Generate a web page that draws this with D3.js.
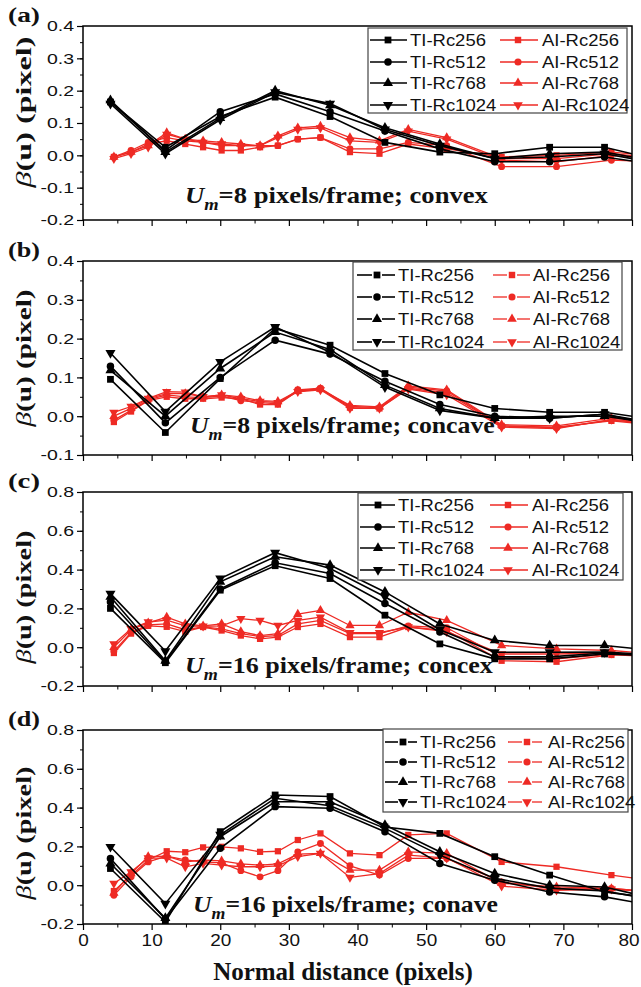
<!DOCTYPE html>
<html>
<head>
<meta charset="utf-8">
<script src="https://cdn.jsdelivr.net/npm/d3@7"></script>
<style>
  body { margin: 0; background: #fff; }
  svg { display: block; }
</style>
</head>
<body>
<div id="chart"></div>
<script>
// x positions of the two families of points
const tiX = [4, 12, 20, 28, 36, 44, 52, 60, 68, 76, 84];
const aiX = [4.5, 7, 9.5, 12.2, 14.9, 17.5, 20.2, 23, 25.8, 28.4, 31.3, 34.6, 38.9, 43.2, 47.4, 53, 61, 69, 77, 85];
const rcNames = ['Rc256', 'Rc512', 'Rc768', 'Rc1024'];
const xTicks = [0, 10, 20, 30, 40, 50, 60, 70, 80];

// (a) Um=8, convex
const aTI256 = [0.165, 0.025, 0.12, 0.18, 0.12, 0.04, 0.01, 0.005, 0.025, 0.025, -0.015];
const aTI512 = [0.165, 0.015, 0.135, 0.19, 0.135, 0.075, 0.02, -0.02, -0.02, -0.005, -0.03];
const aTI768 = [0.17, 0.01, 0.115, 0.2, 0.155, 0.085, 0.035, -0.01, 0.005, 0.01, -0.02];
const aTI1024 = [0.16, 0.005, 0.11, 0.195, 0.16, 0.08, 0.03, -0.01, -0.005, 0.005, -0.025];
const aAI256 = [-0.005, 0.01, 0.035, 0.045, 0.035, 0.025, 0.015, 0.015, 0.025, 0.03, 0.05, 0.055, 0.01, 0.005, 0.035, 0.02, -0.005, 0.0, 0.01, -0.005];
const aAI512 = [-0.005, 0.015, 0.04, 0.055, 0.045, 0.04, 0.03, 0.03, 0.03, 0.03, 0.05, 0.055, 0.02, 0.02, 0.04, 0.03, -0.035, -0.035, -0.015, -0.02];
const aAI768 = [-0.005, 0.01, 0.03, 0.07, 0.05, 0.045, 0.04, 0.035, 0.03, 0.06, 0.085, 0.09, 0.055, 0.045, 0.08, 0.055, -0.01, -0.01, 0.005, -0.01];
const aAI1024 = [-0.01, 0.005, 0.025, 0.065, 0.05, 0.04, 0.035, 0.03, 0.03, 0.055, 0.08, 0.085, 0.045, 0.04, 0.075, 0.05, -0.015, -0.02, 0.0, -0.015];

// (b) Um=8, concave
const bTI256 = [0.095, -0.042, 0.097, 0.226, 0.183, 0.11, 0.055, 0.02, 0.01, 0.01, -0.01];
const bTI512 = [0.129, -0.017, 0.1, 0.196, 0.16, 0.09, 0.03, 0.0, -0.005, 0.005, -0.02];
const bTI768 = [0.118, 0.0, 0.123, 0.217, 0.172, 0.08, 0.02, -0.005, 0.0, 0.0, -0.02];
const bTI1024 = [0.163, 0.012, 0.14, 0.23, 0.165, 0.075, 0.015, -0.005, -0.005, 0.005, -0.025];
const bAI256 = [-0.015, 0.012, 0.04, 0.05, 0.045, 0.045, 0.048, 0.045, 0.03, 0.03, 0.065, 0.07, 0.022, 0.02, 0.072, 0.06, -0.025, -0.028, -0.012, -0.025];
const bAI512 = [-0.01, 0.015, 0.042, 0.055, 0.05, 0.048, 0.052, 0.04, 0.035, 0.032, 0.068, 0.072, 0.025, 0.022, 0.075, 0.065, -0.025, -0.03, -0.01, -0.022];
const bAI768 = [0.0, 0.02, 0.045, 0.058, 0.058, 0.05, 0.055, 0.05, 0.04, 0.038, 0.065, 0.07, 0.028, 0.024, 0.078, 0.068, -0.022, -0.025, -0.005, -0.018];
const bAI1024 = [0.01, 0.025, 0.046, 0.063, 0.062, 0.05, 0.055, 0.045, 0.038, 0.035, 0.063, 0.068, 0.02, 0.02, 0.07, 0.055, -0.028, -0.032, -0.008, -0.02];

// (c) Um=16, convex
const cTI256 = [0.2, -0.08, 0.294, 0.42, 0.354, 0.165, 0.017, -0.06, -0.06, -0.035, -0.045];
const cTI512 = [0.233, -0.075, 0.3, 0.435, 0.38, 0.225, 0.078, -0.05, -0.05, -0.03, -0.045];
const cTI768 = [0.26, -0.07, 0.337, 0.466, 0.423, 0.285, 0.12, 0.035, 0.009, 0.009, -0.02];
const cTI1024 = [0.276, -0.02, 0.354, 0.487, 0.406, 0.26, 0.09, -0.026, -0.026, -0.025, -0.04];
const cAI256 = [-0.03, 0.07, 0.11, 0.105, 0.08, 0.104, 0.086, 0.06, 0.043, 0.052, 0.104, 0.12, 0.052, 0.052, 0.104, 0.086, -0.07, -0.075, -0.04, -0.05];
const cAI512 = [-0.02, 0.075, 0.115, 0.12, 0.09, 0.105, 0.095, 0.07, 0.055, 0.06, 0.12, 0.138, 0.07, 0.07, 0.11, 0.1, -0.05, -0.06, -0.035, -0.045];
const cAI768 = [0.0, 0.09, 0.125, 0.155, 0.12, 0.11, 0.12, 0.08, 0.06, 0.07, 0.17, 0.19, 0.112, 0.112, 0.18, 0.138, 0.009, -0.009, -0.017, -0.04];
const cAI1024 = [0.017, 0.095, 0.13, 0.14, 0.11, 0.108, 0.11, 0.147, 0.138, 0.112, 0.138, 0.155, 0.075, 0.075, 0.104, 0.08, -0.035, -0.035, -0.03, -0.045];

// (d) Um=16, concave
const dTI256 = [0.086, -0.19, 0.276, 0.465, 0.457, 0.3, 0.267, 0.147, 0.052, -0.035, -0.07];
const dTI512 = [0.138, -0.175, 0.19, 0.405, 0.397, 0.276, 0.112, 0.026, -0.035, -0.06, -0.11];
const dTI768 = [0.112, -0.17, 0.25, 0.43, 0.43, 0.31, 0.172, 0.06, 0.0, -0.009, -0.075];
const dTI1024 = [0.198, -0.095, 0.26, 0.448, 0.41, 0.293, 0.155, 0.035, -0.015, -0.03, -0.08];
const dAI256 = [-0.03, 0.05, 0.13, 0.175, 0.17, 0.195, 0.198, 0.19, 0.172, 0.175, 0.233, 0.267, 0.164, 0.155, 0.259, 0.267, 0.12, 0.095, 0.052, 0.015];
const dAI512 = [-0.052, 0.043, 0.12, 0.15, 0.13, 0.12, 0.115, 0.075, 0.043, 0.075, 0.172, 0.215, 0.1, 0.052, 0.138, 0.138, 0.017, -0.02, -0.017, -0.04];
const dAI768 = [-0.04, 0.06, 0.147, 0.15, 0.12, 0.13, 0.125, 0.11, 0.103, 0.11, 0.16, 0.164, 0.078, 0.078, 0.172, 0.164, 0.01, -0.009, -0.017, -0.04];
const dAI1024 = [0.009, 0.069, 0.14, 0.14, 0.095, 0.112, 0.103, 0.095, 0.095, 0.1, 0.147, 0.164, 0.04, 0.06, 0.155, 0.14, -0.005, -0.026, -0.02, -0.04];

const W = 641, H = 987;
const RED = '#ee2a24';
const SERIF = '"Liberation Serif", "Times New Roman", serif';
const SANS = '"Liberation Sans", Arial, sans-serif';

// layout of the four stacked panels
const panels = [
    {letter: '(a)', top: 26, bottom: 220, domain: [-0.2, 0.4], step: 0.1,
     ti: [aTI256, aTI512, aTI768, aTI1024], ai: [aAI256, aAI512, aAI768, aAI1024],
     um: '8', note: ' pixels/frame; convex', noteX: 185, noteY: 203, noteW: 303,
     labelY: 112, labelW: 151,
     legend: {x0: 368, y0: 28, x1: 627, y1: 113, rows: [40, 62, 83, 105], l: [370, 407, 388, 410], r: [500, 538, 518, 542], gap: false}},
    {letter: '(b)', top: 261, bottom: 455, domain: [-0.1, 0.4], step: 0.1,
     ti: [bTI256, bTI512, bTI768, bTI1024], ai: [bAI256, bAI512, bAI768, bAI1024],
     um: '8', note: ' pixels/frame; concave', noteX: 190, noteY: 433, noteW: 305,
     labelY: 358, labelW: 137,
     legend: {x0: 353, y0: 262, x1: 622, y1: 350, rows: [275, 297, 319, 342], l: [357, 395, 377, 398], r: [493, 530, 512, 533], gap: true}},
    {letter: '(c)', top: 492, bottom: 686, domain: [-0.2, 0.8], step: 0.2,
     ti: [cTI256, cTI512, cTI768, cTI1024], ai: [cAI256, cAI512, cAI768, cAI1024],
     um: '16', note: ' pixels/frame; concex', noteX: 185, noteY: 673, noteW: 308,
     labelY: 597, labelW: 133,
     legend: {x0: 358, y0: 493, x1: 623, y1: 580, rows: [505, 527, 548, 570], l: [360, 395, 378, 398], r: [490, 528, 508, 532], gap: false}},
    {letter: '(d)', top: 730, bottom: 924, domain: [-0.2, 0.8], step: 0.2,
     ti: [dTI256, dTI512, dTI768, dTI1024], ai: [dAI256, dAI512, dAI768, dAI1024],
     um: '16', note: ' pixels/frame; conave', noteX: 193, noteY: 912, noteW: 305,
     labelY: 833, labelW: 133,
     legend: {x0: 383, y0: 729, x1: 628, y1: 812, rows: [742, 762, 782, 802], l: [385, 417, 403, 420], r: [508, 542, 527, 548], gap: true}}
];

const svg = d3.select('#chart').append('svg')
    .attr('width', W)
    .attr('height', H);

const x = d3.scaleLinear().domain([0, 80]).range([83, 632]);

// square, circle, up triangle, down triangle
const symTypes = [d3.symbolSquare, d3.symbolCircle, d3.symbolTriangle, d3.symbolTriangle];
const symSizes = [46, 44, 44, 44];
function marker(sel, i, cx, cy, color, k) {
    sel.append('path')
        .attr('d', d3.symbol().type(symTypes[i]).size(symSizes[i] * k)())
        .attr('transform', `translate(${cx},${cy})` + (i === 3 ? ' rotate(180)' : ''))
        .attr('fill', color);
}

// text squeezed/stretched horizontally so it fills a given width
function fitText(parent, px, py, width, rotate, build) {
    const g = parent.append('g');
    const t = g.append('text');
    build(t);
    const w = t.node().getComputedTextLength();
    const k = width ? width / w : 1;
    g.attr('transform', `translate(${px},${py})` + (rotate ? ` rotate(${rotate})` : '') + ` scale(${k},1)`);
    return g;
}

panels.forEach((p, pi) => {
    const y = d3.scaleLinear().domain(p.domain).range([p.bottom, p.top]);
    const g = svg.append('g');
    const last = pi === panels.length - 1;

    // clip to plot area
    const clipId = 'clip' + pi;
    svg.append('clipPath').attr('id', clipId)
        .append('rect')
        .attr('x', x(0)).attr('y', p.top)
        .attr('width', x(80) - x(0)).attr('height', p.bottom - p.top);

    // y axis major + minor
    const yMajor = d3.range(Math.round((p.domain[1] - p.domain[0]) / p.step) + 1)
        .map(i => Math.round((p.domain[0] + i * p.step) * 10) / 10);
    const yMinor = d3.range(Math.round((p.domain[1] - p.domain[0]) / p.step * 2) + 1)
        .map(i => p.domain[0] + i * p.step / 2);

    g.append('g')
        .attr('transform', `translate(${x(0)},0)`)
        .call(d3.axisLeft(y).tickValues(yMinor).tickSize(3).tickSizeOuter(0).tickFormat(''))
        .call(a => a.select('.domain').remove());

    const ya = g.append('g')
        .attr('transform', `translate(${x(0)},0)`)
        .call(d3.axisLeft(y).tickValues(yMajor).tickSize(6).tickSizeOuter(0).tickPadding(3)
            .tickFormat(d => d.toFixed(1)));
    ya.select('.domain').remove();
    ya.selectAll('line').attr('stroke-width', 1.2);
    ya.selectAll('text')
        .attr('font-family', SANS)
        .attr('font-size', 15)
        .attr('fill', '#111')
        .attr('x', -9 / 1.3)
        .attr('transform', 'scale(1.3,1)');

    // x axis major + minor
    g.append('g')
        .attr('transform', `translate(0,${p.bottom})`)
        .call(d3.axisBottom(x).tickValues(d3.range(5, 80, 10)).tickSize(3.5).tickSizeOuter(0).tickFormat(''))
        .call(a => a.select('.domain').remove());

    const xa = g.append('g')
        .attr('transform', `translate(0,${p.bottom})`)
        .call(d3.axisBottom(x).tickValues(xTicks).tickSize(6).tickSizeOuter(0).tickPadding(4)
            .tickFormat(last ? d3.format('d') : ''));
    xa.select('.domain').remove();
    xa.selectAll('line').attr('stroke-width', 1.2);
    xa.selectAll('text')
        .attr('font-family', SANS)
        .attr('font-size', 16.5)
        .attr('fill', '#111')
        .attr('transform', 'scale(1.15,1)')
        // keep the last label inside the page edge
        .attr('x', d => d === 80 ? -3 : 0);

    // data lines
    const plot = g.append('g').attr('clip-path', `url(#${clipId})`);
    const line = d3.line().x(d => x(d[0])).y(d => y(d[1]));

    p.ai.forEach((vals, i) => {
        const pts = aiX.map((xv, j) => [xv, vals[j]]);
        plot.append('path')
            .attr('d', line(pts))
            .attr('fill', 'none')
            .attr('stroke', RED)
            .attr('stroke-width', 1.3);
        pts.forEach(d => marker(plot, i, x(d[0]), y(d[1]), RED, 0.85));
    });

    p.ti.forEach((vals, i) => {
        const pts = tiX.map((xv, j) => [xv, vals[j]]);
        plot.append('path')
            .attr('d', line(pts))
            .attr('fill', 'none')
            .attr('stroke', '#000')
            .attr('stroke-width', 1.6);
        pts.forEach(d => marker(plot, i, x(d[0]), y(d[1]), '#000', 1));
    });

    // frame
    g.append('rect')
        .attr('x', x(0)).attr('y', p.top)
        .attr('width', x(80) - x(0)).attr('height', p.bottom - p.top)
        .attr('fill', 'none')
        .attr('stroke', '#000')
        .attr('stroke-width', 1.5);

    // legend
    const L = p.legend;
    const lg = g.append('g');
    lg.append('rect')
        .attr('x', L.x0).attr('y', L.y0)
        .attr('width', L.x1 - L.x0).attr('height', L.y1 - L.y0)
        .attr('fill', '#fff')
        .attr('stroke', '#444')
        .attr('stroke-width', 1.2);

    rcNames.forEach((nm, i) => {
        const ry = L.rows[i];
        [[L.l, '#000', 'TI-', 1.6, 1], [L.r, RED, 'AI-', 1.3, 0.9]].forEach(([c, col, pre, sw, k]) => {
            if (L.gap) {
                lg.append('line').attr('x1', c[0]).attr('x2', c[2] - 5).attr('y1', ry).attr('y2', ry)
                    .attr('stroke', col).attr('stroke-width', sw);
                lg.append('line').attr('x1', c[2] + 5).attr('x2', c[1]).attr('y1', ry).attr('y2', ry)
                    .attr('stroke', col).attr('stroke-width', sw);
            } else {
                lg.append('line').attr('x1', c[0]).attr('x2', c[1]).attr('y1', ry).attr('y2', ry)
                    .attr('stroke', col).attr('stroke-width', sw);
            }
            marker(lg, i, c[2], ry, col, k);
            const tg = fitText(lg, c[3], ry + 6, null, null, t => t
                .attr('font-family', SANS)
                .attr('font-size', 16.5)
                .attr('fill', '#111')
                .text(pre + nm));
            tg.attr('transform', `translate(${c[3]},${ry + 6}) scale(1.12,1)`);
        });
    });

    // annotation U_m=...
    fitText(g, p.noteX, p.noteY, p.noteW, null, t => {
        t.attr('font-family', SERIF).attr('font-weight', 'bold').attr('font-size', 23).attr('fill', '#111');
        t.append('tspan').attr('font-style', 'italic').text('U');
        t.append('tspan').attr('font-style', 'italic').attr('font-size', 16).attr('dy', 7).text('m');
        t.append('tspan').attr('dy', -7).text('=' + p.um + p.note);
    });

    // panel letter
    fitText(g, 8, p.top - 4, 32, null, t => t
        .attr('font-family', SERIF).attr('font-weight', 'bold').attr('font-size', 20).attr('fill', '#111')
        .text(p.letter));

    // y axis title
    fitText(g, 31, p.labelY, p.labelW, -90, t => {
        t.attr('font-family', SERIF).attr('font-weight', 'bold').attr('font-size', 20)
            .attr('text-anchor', 'middle').attr('fill', '#111');
        t.append('tspan').attr('font-style', 'italic').attr('font-weight', 'normal').text('β');
        t.append('tspan').text('(u)  (pixel)');
    });
});

// x axis title
svg.append('text')
    .attr('x', 343)
    .attr('y', 980)
    .attr('text-anchor', 'middle')
    .attr('font-family', SERIF)
    .attr('font-weight', 'bold')
    .attr('font-size', 25)
    .attr('fill', '#111')
    .text('Normal distance (pixels)');
</script>
</body>
</html>
